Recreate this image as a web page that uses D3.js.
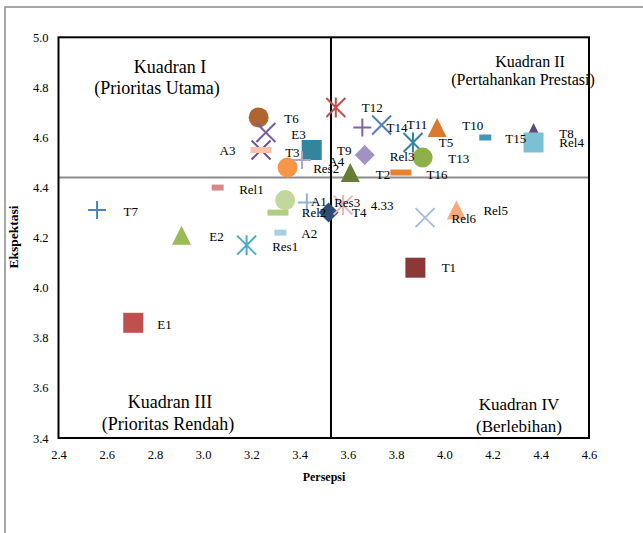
<!DOCTYPE html>
<html>
<head>
<meta charset="utf-8">
<script src="https://cdn.jsdelivr.net/npm/d3@7"></script>
<style>
  body { margin: 0; background: #fff; }
  svg text { font-family: "Liberation Serif", "Times New Roman", serif; fill: #000; }
</style>
</head>
<body>
<svg id="chart"></svg>
<script>
// data
const pointNames = ["E1", "T7", "E2", "Res1", "A2", "Rel1", "Rel2", "Res4", "T4", "A1", "Res3", "Rel6", "Rel5", "T1",
    "T6", "T15", "T13", "A3", "E3", "T3", "Res2", "T12", "T16", "T14", "T11", "T5", "T10", "T8", "Rel4", "T9", "Rel3", "T2", "A4"];
const persepsi = [2.71, 2.56, 2.91, 3.18, 3.32, 3.06, 3.34, 3.31, 3.52, 3.43, 3.58, 3.92, 4.05, 3.88,
    3.23, 3.26, 3.24, 3.24, 3.45, 3.35, 3.41, 3.55, 3.66, 3.74, 3.87, 3.97, 4.17, 4.37, 4.37, 3.67, 3.91, 3.82, 3.61];
const ekspektasi = [3.86, 4.31, 4.21, 4.17, 4.22, 4.40, 4.35, 4.30, 4.30, 4.34, 4.33, 4.28, 4.31, 4.08,
    4.68, 4.62, 4.55, 4.55, 4.55, 4.48, 4.51, 4.72, 4.64, 4.65, 4.58, 4.64, 4.60, 4.62, 4.58, 4.53, 4.52, 4.46, 4.46];

// data labels (text and where they sit, in data units)
const labelTexts = ["E1", "T7", "E2", "Res1", "A2", "Rel1", "A1", "Rel2", "Res3", "T4", "4.33", "Rel6", "Rel5", "T1",
    "T6", "E3", "A3", "T3", "Res2", "A4", "T9", "T12", "T14", "T11", "T5", "T10", "T15", "T8", "Rel4", "Rel3", "T13", "T2", "T16"];
const labelX = [2.84, 2.70, 3.055, 3.34, 3.44, 3.20, 3.48, 3.46, 3.597, 3.647, 3.742, 4.081, 4.213, 4.019,
    3.366, 3.395, 3.101, 3.37, 3.51, 3.552, 3.585, 3.701, 3.804, 3.887, 4.007, 4.118, 4.296, 4.507, 4.528, 3.825, 4.06, 3.746, 3.97];
const labelY = [3.855, 4.303, 4.203, 4.163, 4.215, 4.394, 4.346, 4.299, 4.339, 4.299, 4.327, 4.275, 4.307, 4.079,
    4.674, 4.613, 4.546, 4.542, 4.478, 4.506, 4.546, 4.718, 4.638, 4.65, 4.578, 4.646, 4.594, 4.614, 4.578, 4.526, 4.518, 4.454, 4.454];

const xTicks = [2.4, 2.6, 2.8, 3.0, 3.2, 3.4, 3.6, 3.8, 4.0, 4.2, 4.4, 4.6];
const yTicks = [3.4, 3.6, 3.8, 4.0, 4.2, 4.4, 4.6, 4.8, 5.0];
const meanPersepsi = 3.53;
const meanEkspektasi = 4.44;

// marker shape and colour for each point
const markerStyle = {
    E1: ["square", "#C0504D"], T7: ["plus", "#4F81BD"], E2: ["triangle", "#9BBB59"], Res1: ["star", "#4BACC6"],
    A2: ["dash", "#A5D0E0"], Rel1: ["dash", "#D48A8A"], Rel2: ["circle", "#C3D69B"], Res4: ["bar", "#B3CC82"],
    T4: ["diamond", "#2C4D75"], A1: ["plus", "#95B3D7"], Res3: ["star", "#E6B9B8"], Rel6: ["x", "#A7BDDD"],
    Rel5: ["triangle", "#F8A97A"], T1: ["square", "#8C3836"], T6: ["circle", "#AE6530"], T15: ["x", "#7A5FA0"],
    T13: ["x", "#6A5090"], A3: ["bar", "#F8C3AA"], E3: ["square", "#31859C"], T3: ["circle", "#F79646"],
    Res2: ["plus", "#B3A2C7"], T12: ["star", "#C0504D"], T16: ["plus", "#8064A2"], T14: ["x", "#4F81BD"],
    T11: ["star", "#31859C"], T5: ["triangle", "#D9782E"], T10: ["dash", "#3C9AB4"], T8: ["triangle", "#604A7B"],
    Rel4: ["square", "#7CC0D6"], T9: ["diamond", "#A092C4"], Rel3: ["circle", "#8DB04A"], T2: ["bar", "#E8822F"],
    A4: ["triangle", "#637F33"]
};

// layout
const width = 643, height = 533;
const plot = { left: 58.5, right: 589, top: 37.3, bottom: 438 };

const svg = d3.select("#chart").attr("width", width).attr("height", height);

// outer frame (only top and left edges show)
svg.append("path")
    .attr("d", `M5,${height} V7 H${width}`)
    .attr("fill", "none").attr("stroke", "#8c8c8c").attr("stroke-width", 1.5);

const x = d3.scaleLinear().domain([2.4, 4.6]).range([plot.left, plot.right]);
const y = d3.scaleLinear().domain([3.4, 5.0]).range([plot.bottom, plot.top]);

// axes: labels only, no tick marks
const xAxis = svg.append("g")
    .attr("transform", `translate(0,${plot.bottom})`)
    .call(d3.axisBottom(x).tickValues(xTicks).tickFormat(d3.format(".1f")).tickSize(0).tickPadding(12));
const yAxis = svg.append("g")
    .attr("transform", `translate(${plot.left},0)`)
    .call(d3.axisLeft(y).tickValues(yTicks).tickFormat(d3.format(".1f")).tickSize(0).tickPadding(10));
[xAxis, yAxis].forEach(g => {
    g.select(".domain").remove();
    g.selectAll("text").attr("font-size", 12.5).attr("font-family", "Liberation Serif, serif").attr("fill", "#000");
});

// quadrant lines
svg.append("line")
    .attr("x1", plot.left).attr("x2", plot.right)
    .attr("y1", y(meanEkspektasi)).attr("y2", y(meanEkspektasi))
    .attr("stroke", "#8c8c8c").attr("stroke-width", 2);
svg.append("line")
    .attr("x1", x(meanPersepsi)).attr("x2", x(meanPersepsi))
    .attr("y1", plot.top).attr("y2", plot.bottom)
    .attr("stroke", "#000").attr("stroke-width", 2);

// plot border
svg.append("rect")
    .attr("x", plot.left).attr("y", plot.top)
    .attr("width", plot.right - plot.left).attr("height", plot.bottom - plot.top)
    .attr("fill", "none").attr("stroke", "#000").attr("stroke-width", 2);

// quadrant captions
const quadText = [
    ["Kuadran I", 170, 73, 18], ["(Prioritas Utama)", 157, 94, 18],
    ["Kuadran II", 530, 67, 16], ["(Pertahankan Prestasi)", 523, 85, 16],
    ["Kuadran III", 170, 408, 18], ["(Prioritas Rendah)", 168, 430, 18],
    ["Kuadran IV", 519, 410, 17], ["(Berlebihan)", 519, 432, 17]
];
svg.append("g").selectAll("text")
    .data(quadText)
    .join("text")
    .attr("x", d => d[1]).attr("y", d => d[2])
    .attr("text-anchor", "middle")
    .attr("font-size", d => d[3])
    .text(d => d[0]);

// axis titles
svg.append("text")
    .attr("x", 324).attr("y", 481)
    .attr("text-anchor", "middle").attr("font-size", 12).attr("font-weight", "bold")
    .text("Persepsi");
svg.append("text")
    .attr("transform", "translate(18,237) rotate(-90)")
    .attr("text-anchor", "middle").attr("font-size", 13.5).attr("font-weight", "bold")
    .text("Ekspektasi");

// marker paths
const markerPath = (shape) => {
    switch (shape) {
        case "square": return "M-10,-10H10V10H-10Z";
        case "circle": return "M10,0A10,10 0 1,1 -10,0A10,10 0 1,1 10,0Z";
        case "triangle": return "M0,-9.5L9.5,9.5H-9.5Z";
        case "diamond": return "M0,-10L10,0L0,10L-10,0Z";
        case "dash": return "M-6,-3H6V3H-6Z";
        case "bar": return "M-10.5,-3H10.5V3H-10.5Z";
        case "plus": return "M-9,0H9M0,-9V9";
        case "x": return "M-9.5,-9.5L9.5,9.5M-9.5,9.5L9.5,-9.5";
        case "star": return "M-9.5,-9.5L9.5,9.5M-9.5,9.5L9.5,-9.5M0,-10V10";
    }
};
const lineShapes = ["plus", "x", "star"];

const points = pointNames.map((name, i) => ({ name, px: persepsi[i], py: ekspektasi[i] }));
svg.append("g").selectAll("path")
    .data(points)
    .join("path")
    .attr("transform", d => `translate(${x(d.px)},${y(d.py)})`)
    .attr("d", d => markerPath(markerStyle[d.name][0]))
    .attr("fill", d => lineShapes.includes(markerStyle[d.name][0]) ? "none" : markerStyle[d.name][1])
    .attr("stroke", d => lineShapes.includes(markerStyle[d.name][0]) ? markerStyle[d.name][1] : "none")
    .attr("stroke-width", 2);

// data labels
svg.append("g").selectAll("text")
    .data(labelTexts)
    .join("text")
    .attr("x", (d, i) => x(labelX[i]))
    .attr("y", (d, i) => y(labelY[i]))
    .attr("text-anchor", "middle")
    .attr("dominant-baseline", "central")
    .attr("font-size", 13)
    .text(d => d);
</script>
</body>
</html>
